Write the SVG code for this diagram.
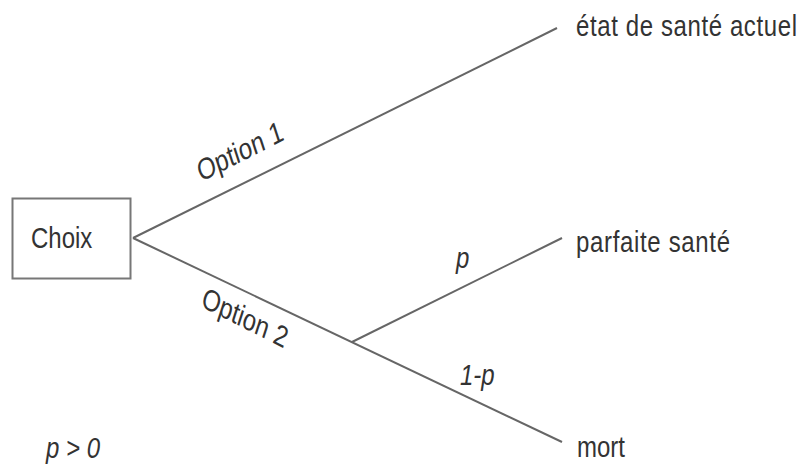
<svg xmlns="http://www.w3.org/2000/svg" width="801" height="468" viewBox="0 0 801 468">
<style>
text { font-family: "Liberation Sans", Arial, sans-serif; fill: #333; font-size: 24px; }
.it { font-style: italic; }
.edge { stroke: #666; stroke-width: 2; fill: none; }
</style>
<rect width="801" height="468" fill="#fff"/>
<g id="connectors">
<line class="edge" x1="133" y1="238" x2="557" y2="28"/>
<line class="edge" x1="133" y1="238" x2="562" y2="442"/>
<line class="edge" x1="352" y1="342" x2="562" y2="238"/>
</g>
<g id="choix">
<rect x="12.5" y="198.5" width="118" height="80" fill="#fff" stroke="#777" stroke-width="2"/>
<text transform="translate(31,248) scale(1,1.25)">Choix</text>
</g>
<g id="etat"><text transform="translate(576,36) scale(1,1.25)" textLength="221">état de santé actuel</text></g>
<g id="parfaite"><text transform="translate(576,252) scale(1,1.25)" textLength="154">parfaite santé</text></g>
<g id="mort"><text transform="translate(577,457) scale(1,1.25)">mort</text></g>
<g id="labels">
<text transform="translate(201,182) scale(1,1.25) rotate(-22)">Option 1</text>
<text transform="translate(200,306) scale(1,1.25) rotate(22)">Option 2</text>
<text class="it" transform="translate(456,268) scale(1,1.25)">p</text>
<text class="it" transform="translate(460,385) scale(1,1.25)">1-p</text>
<text class="it" transform="translate(46,458) scale(1,1.25)">p &gt; 0</text>
</g>
</svg>
